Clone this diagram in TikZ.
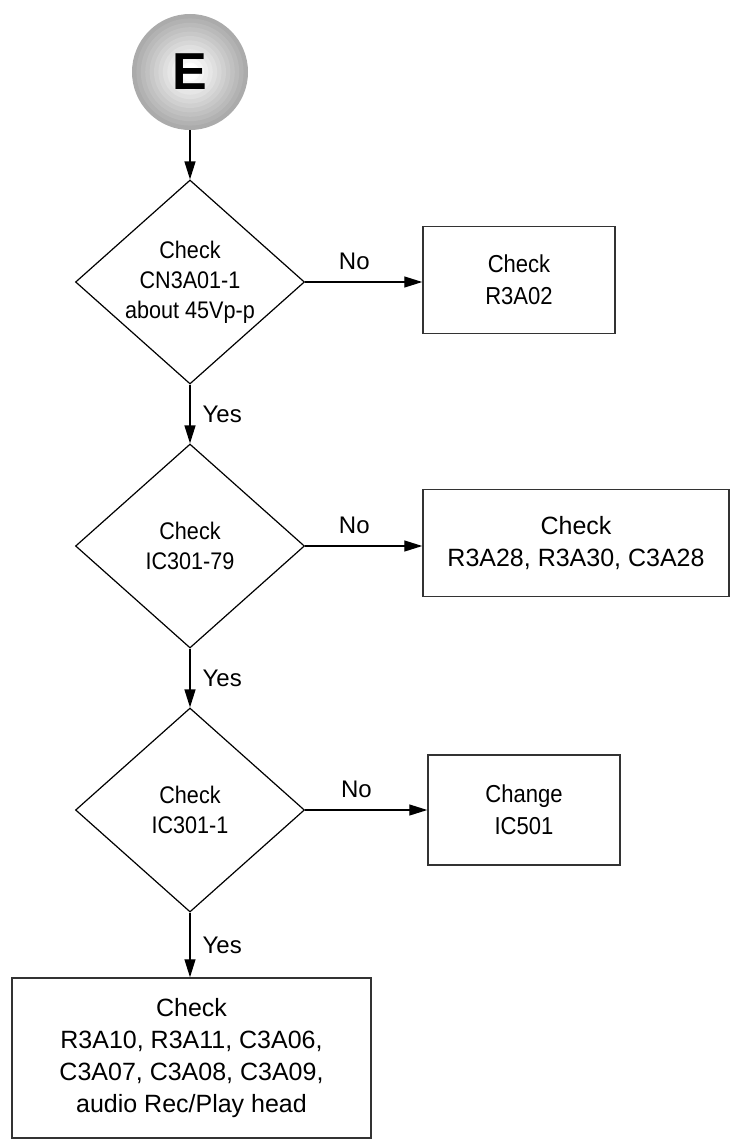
\documentclass[tikz,border=0pt]{standalone}
\usepackage{fontspec}
\setmainfont{Liberation Sans}
\newfontfamily\condfont[FakeStretch=0.9]{Liberation Sans}
\usetikzlibrary{shapes.geometric,arrows.meta}
\begin{document}
\begin{tikzpicture}[x=1pt,y=-1pt,
  flow/.style={line width=1.3pt,-{Triangle[length=18pt,width=11pt]}},
  dia/.style={draw,diamond,minimum width=229pt,minimum height=204pt,inner sep=0pt,line width=1.2pt},
  dtext/.style={align=center,inner sep=0pt,font=\condfont\fontsize{24}{30}\selectfont},
  box/.style={draw=black!80,line width=1.5pt,align=center,inner sep=0pt},
  cbox/.style={box,font=\condfont\fontsize{24.5}{32}\selectfont},
  rbox/.style={box,font=\fontsize{25}{32}\selectfont},
  lbl/.style={inner sep=0pt,font=\fontsize{24}{28}\selectfont}]
\useasboundingbox (0,0) rectangle (731,1140);
% start circle with banded radial shading
\foreach \i in {0,...,11}{
  \pgfmathsetmacro\rr{58-\i*4.4}
  \pgfmathsetmacro\cc{max(0,33-\i*2.9)}
  \fill[black!\cc] (190,72) circle[radius=\rr];
}
\fill[white] (190,72) circle[radius=8];
\node[circle,minimum size=116pt,inner sep=0pt,font=\fontsize{52}{52}\selectfont\bfseries] (E) at (190,72) {E};
% decisions
\node[dia] (d1) at (190,282) {};
\node[dtext] (d1t) at (d1.center) {Check\\CN3A01-1\\about 45Vp-p};
\node[dia] (d2) at (190,546) {};
\node[dtext] (d2t) at (d2.center) {Check\\IC301-79};
\node[dia] (d3) at (190,810) {};
\node[dtext] (d3t) at (d3.center) {Check\\IC301-1};
% boxes
\node[cbox,minimum width=192pt,minimum height=107pt] (b1) at (519,280) {Check\\R3A02};
\node[rbox,minimum width=306pt,minimum height=107pt] (b2) at (576,543) {Check\\R3A28, R3A30, C3A28};
\node[cbox,minimum width=192pt,minimum height=110pt] (b3) at (524,810) {Change\\IC501};
\node[rbox,minimum width=359pt,minimum height=160pt] (b4) at (191.5,1058) {Check\\R3A10, R3A11, C3A06,\\C3A07, C3A08, C3A09,\\audio Rec/Play head};
% connectors
\draw[flow] (E.south) -- (d1.north);
\draw[flow] (d1.east) -- node[lbl,pos=0.42,above=12pt] (n1) {No} (d1.east -| b1.west);
\draw[flow] (d1.south) -- node[lbl,pos=0.5,anchor=west,xshift=12pt] (y1) {Yes} (d2.north);
\draw[flow] (d2.east) -- node[lbl,pos=0.42,above=12pt] (n2) {No} (d2.east -| b2.west);
\draw[flow] (d2.south) -- node[lbl,pos=0.5,anchor=west,xshift=12pt] (y2) {Yes} (d3.north);
\draw[flow] (d3.east) -- node[lbl,pos=0.42,above=12pt] (n3) {No} (d3.east -| b3.west);
\draw[flow] (d3.south) -- node[lbl,pos=0.5,anchor=west,xshift=12pt] (y3) {Yes} (d3.south |- b4.north);
\end{tikzpicture}
\end{document}
